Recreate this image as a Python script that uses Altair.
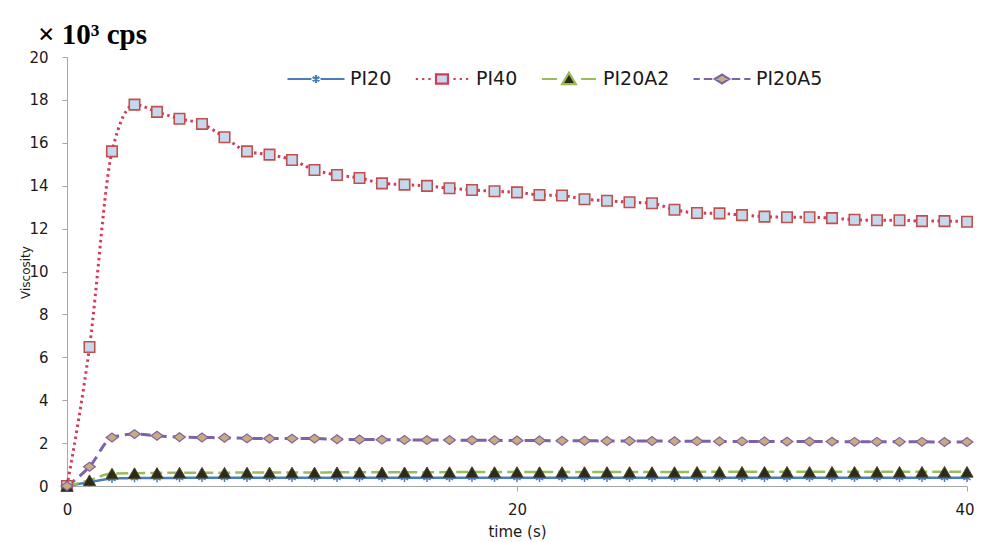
import altair as alt
import pandas as pd

# ---------------- data ----------------
time_s = list(range(41))
pi20 = [0, 0.18, 0.34, 0.37, 0.37, 0.38, 0.38, 0.38, 0.38, 0.38, 0.38,
        0.38, 0.38, 0.38, 0.38, 0.38, 0.38, 0.38, 0.38, 0.38, 0.38,
        0.38, 0.38, 0.38, 0.38, 0.38, 0.38, 0.38, 0.38, 0.38, 0.38,
        0.38, 0.38, 0.38, 0.38, 0.38, 0.38, 0.38, 0.38, 0.38, 0.38]
pi40 = [0, 6.48, 15.6, 17.78, 17.44, 17.12, 16.88, 16.26, 15.6, 15.45, 15.2,
        14.73, 14.5, 14.36, 14.11, 14.05, 13.99, 13.88, 13.8, 13.74, 13.69,
        13.57, 13.54, 13.37, 13.3, 13.23, 13.18, 12.88, 12.73, 12.71, 12.63,
        12.56, 12.53, 12.53, 12.49, 12.41, 12.39, 12.39, 12.35, 12.35, 12.32]
pi20a2 = [0, 0.27, 0.58, 0.6, 0.61, 0.62, 0.62, 0.62, 0.63, 0.63, 0.63,
          0.63, 0.64, 0.64, 0.64, 0.64, 0.64, 0.65, 0.65, 0.65, 0.65,
          0.65, 0.65, 0.65, 0.65, 0.65, 0.65, 0.65, 0.66, 0.66, 0.66,
          0.66, 0.66, 0.66, 0.66, 0.66, 0.66, 0.66, 0.66, 0.66, 0.66]
pi20a5 = [0, 0.9, 2.26, 2.42, 2.34, 2.28, 2.26, 2.25, 2.22, 2.21, 2.21,
          2.21, 2.18, 2.17, 2.16, 2.15, 2.14, 2.14, 2.13, 2.13, 2.12,
          2.12, 2.11, 2.11, 2.1, 2.1, 2.1, 2.09, 2.09, 2.08, 2.08,
          2.08, 2.07, 2.07, 2.07, 2.06, 2.06, 2.06, 2.06, 2.05, 2.05]

series_names = ["PI20", "PI40", "PI20A2", "PI20A5"]
series_values = [pi20, pi40, pi20a2, pi20a5]
x_ticks = [0, 20, 40]
y_ticks = [0, 2, 4, 6, 8, 10, 12, 14, 16, 18, 20]

rows = []
for name, vals in zip(series_names, series_values):
    for t, v in zip(time_s, vals):
        rows.append({"time": t, "value": v, "series": name})
df = pd.DataFrame(rows)

# ---------------- styles ----------------
ASTERISK = "M0,-1L0,1M-0.87,-0.5L0.87,0.5M-0.87,0.5L0.87,-0.5"
WIDE_DIAMOND = "M-1,0L0,-0.75L1,0L0,0.75Z"

styles = {
    "PI20": dict(line="#4a7ebb", dash=[1, 0], lw=2.5, shape=ASTERISK,
                 fill="none", stroke="#4a7ebb", size=70, sw=1.5, filled=False),
    "PI40": dict(line="#d43b5a", dash=[2.5, 3.5], lw=3, shape="square",
                 fill="#c6d9ec", stroke="#c0504d", size=110, sw=1.6, filled=True),
    "PI20A2": dict(line="#9bbb59", dash=[12, 5], lw=2.5, shape="triangle-up",
                   fill="#2e2a1a", stroke="#4a4a26", size=150, sw=1, filled=True),
    "PI20A5": dict(line="#7b63a8", dash=[10, 6], lw=3, shape=WIDE_DIAMOND,
                   fill="#c8ab7e", stroke="#8064a2", size=140, sw=1.2, filled=True),
}


def seg(a, b):
    return f"M{a},0L{b},0"


legend_paths = [
    seg(-1, -0.16) + seg(0.16, 1)
    + "M0,-0.14L0,0.14M-0.12,-0.07L0.12,0.07M-0.12,0.07L0.12,-0.07",
    seg(-0.92, -0.84) + seg(-0.7, -0.62) + seg(-0.48, -0.4)
    + seg(0.4, 0.48) + seg(0.62, 0.7) + seg(0.84, 0.92)
    + "M-0.21,-0.16L0.21,-0.16L0.21,0.16L-0.21,0.16Z",
    seg(-0.95, -0.42) + seg(0.42, 0.95) + "M-0.24,0.18L0,-0.22L0.24,0.18Z",
    seg(-1, -0.78) + seg(-0.64, -0.34) + seg(0.34, 0.64) + seg(0.78, 1)
    + "M-0.25,0L0,-0.16L0.25,0L0,0.16Z",
]
legend_fills = ["#4a7ebb", "#c6d9ec", "#2e2a1a", "#c8ab7e"]
legend_strokes = ["#4a7ebb", "#d43b5a", "#9bbb59", "#7b63a8"]

axis_gray = "#a6a6a6"

x_enc = alt.X(
    "time:Q",
    scale=alt.Scale(domain=[0, 40], nice=False),
    axis=alt.Axis(values=x_ticks, grid=False, domainColor=axis_gray,
                  tickColor=axis_gray, tickSize=5, labelFont="DejaVu Sans",
                  labelFontSize=15, labelColor="#1a1a1a", labelPadding=11,
                  labelFlush=False,
                  labelAlign=alt.ExprRef(expr="datum.value == 40 ? 'right' : 'center'"),
                  labelOffset=alt.ExprRef(expr="datum.value == 40 ? 7 : 0"),
                  title="time (s)", titleFont="DejaVu Sans", titleFontSize=15,
                  titleFontWeight="normal", titleColor="#1a1a1a", titleY=50,
                  titleBaseline="alphabetic"),
)
y_enc = alt.Y(
    "value:Q",
    scale=alt.Scale(domain=[0, 20], nice=False),
    axis=alt.Axis(values=y_ticks, grid=False, domainColor=axis_gray,
                  tickColor=axis_gray, tickSize=5, labelFont="DejaVu Sans",
                  labelFontSize=15, labelColor="#1a1a1a", labelPadding=14,
                  title="Viscosity", titleFont="DejaVu Sans", titleFontSize=12,
                  titleFontWeight="normal", titleColor="#1a1a1a", titleX=-42,
                  titleY=215, titleAngle=270, titleAlign="center",
                  titleBaseline="middle"),
)

base = alt.Chart(df).encode(x=x_enc, y=y_enc)

layers = []
for name in series_names:
    s = styles[name]
    sub = base.transform_filter(alt.datum.series == name)
    layers.append(sub.mark_line(color=s["line"], strokeDash=s["dash"],
                                strokeWidth=s["lw"], interpolate="monotone"))
for name in series_names:
    s = styles[name]
    sub = base.transform_filter(alt.datum.series == name)
    kw = dict(shape=s["shape"], stroke=s["stroke"], strokeWidth=s["sw"],
              size=s["size"], opacity=1, filled=s["filled"])
    if s["filled"]:
        kw["fill"] = s["fill"]
    layers.append(sub.mark_point(**kw))

legend_layer = base.transform_filter("false").mark_point(
    filled=True, opacity=1
).encode(
    shape=alt.Shape("series:N",
                    scale=alt.Scale(domain=series_names, range=legend_paths),
                    legend=alt.Legend(orient="none", legendX=219, legendY=-8,
                                      direction="horizontal", title=None,
                                      symbolSize=3249, symbolStrokeWidth=2.2,
                                      symbolOpacity=1, labelFont="DejaVu Sans",
                                      labelFontSize=19, labelColor="#1a1a1a",
                                      labelOffset=4, columnPadding=19,
                                      labelExpr="datum.label == 'PI20A2' ? datum.label + '  ' : datum.label")),
    fill=alt.Fill("series:N",
                  scale=alt.Scale(domain=series_names, range=legend_fills)),
    stroke=alt.Stroke("series:N",
                      scale=alt.Scale(domain=series_names, range=legend_strokes)),
)
layers.append(legend_layer)

chart = alt.layer(*layers).properties(
    width=900,
    height=429,
    autosize=alt.AutoSizeParams(type="none"),
    padding={"left": 59, "top": 49, "right": 7, "bottom": 54},
    background="white",
    title=alt.TitleParams("× 10³ cps", anchor="start", frame="group", dx=-29,
                          dy=38, offset=14, baseline="alphabetic",
                          font="Liberation Serif", fontSize=29,
                          fontWeight="bold", color="black"),
).configure_view(stroke=None)

chart.save("out.html", embed_options={"renderer": "svg", "actions": False})
